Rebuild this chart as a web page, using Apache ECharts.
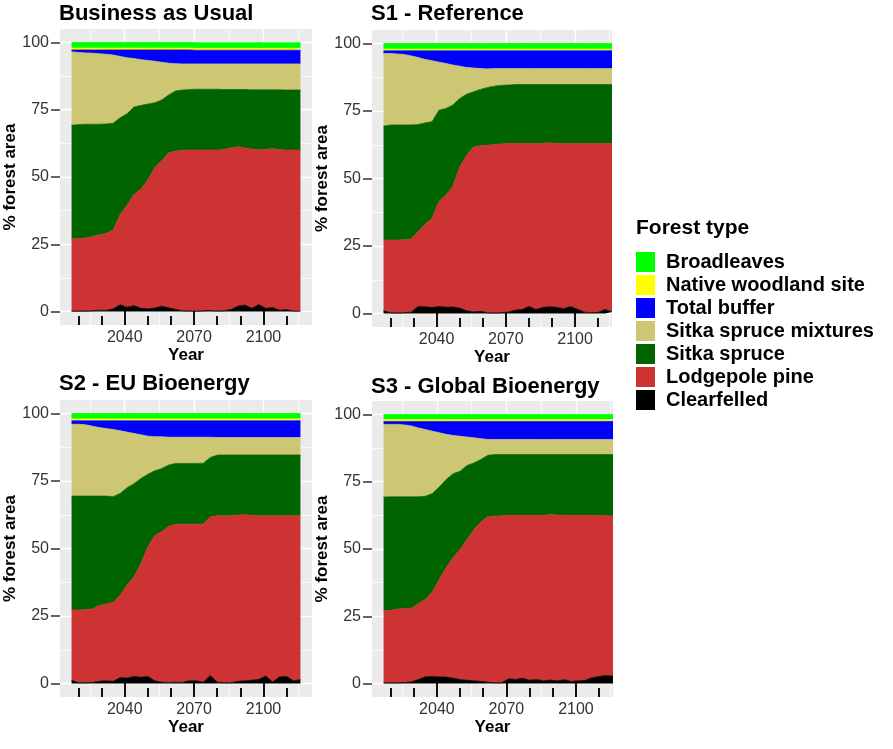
<!DOCTYPE html>
<html>
<head>
<meta charset="utf-8">
<script src="https://cdn.jsdelivr.net/npm/echarts@6/dist/echarts.min.js"></script>
<style>
  html, body { margin: 0; background: #fff; }
  #chart { width: 893px; height: 749px; }
</style>
</head>
<body>
<div id="chart"></div>
<script>
// sample years (read every 3 years off the picture)
const YEARS = [2017, 2020, 2023, 2026, 2029, 2032, 2035, 2038, 2041, 2044, 2047, 2050, 2053, 2056, 2059, 2062, 2065,
  2068, 2071, 2074, 2077, 2080, 2083, 2086, 2089, 2092, 2095, 2098, 2101, 2104, 2107, 2110, 2113, 2116];

const TYPES = ["Clearfelled", "Lodgepole pine", "Sitka spruce", "Sitka spruce mixtures", "Total buffer", "Native woodland site", "Broadleaves"];
const LEGEND_ORDER = ["Broadleaves", "Native woodland site", "Total buffer", "Sitka spruce mixtures", "Sitka spruce", "Lodgepole pine", "Clearfelled"];
const SCENARIOS = ["Business as Usual", "S1 - Reference", "S2 - EU Bioenergy", "S3 - Global Bioenergy"];
const Y_TICKS = [0, 25, 50, 75, 100];
const X_LABELS = [2040, 2070, 2100];
const X_MINOR = [2020, 2030, 2040, 2050, 2060, 2070, 2080, 2090, 2100, 2110];

// % forest area, Business as Usual
const BAU_CLEAR = [0.2, 0.1, 0.2, 0.3, 0.5, 0.4, 1.0, 2.5, 1.6, 2.2, 1.2, 1.0, 1.3, 2.0, 1.4, 0.8, 0.3, 0.2, 0.1, 0.3, 0.4, 0.2, 0.3, 0.8, 2.0, 2.4, 1.2, 2.6, 1.2, 1.5, 0.5, 0.7, 0.2, 0.1];
const BAU_LODGE = [26.8, 27.0, 27.1, 27.5, 28.0, 28.6, 29.3, 33.5, 37.9, 41.3, 44.3, 47.9, 52.2, 54.0, 57.6, 58.8, 59.6, 59.8, 59.9, 59.7, 59.6, 59.8, 59.9, 60.0, 59.2, 58.4, 59.1, 57.6, 59.0, 59.1, 59.6, 59.3, 59.8, 59.9];
const BAU_SITKA = [42.2, 42.4, 42.3, 41.8, 41.1, 40.7, 39.7, 36.0, 34.0, 32.5, 31.1, 28.2, 24.1, 22.6, 21.5, 22.4, 22.4, 22.5, 22.6, 22.6, 22.6, 22.6, 22.3, 21.7, 21.3, 21.7, 22.1, 22.2, 22.2, 21.8, 22.3, 22.3, 22.3, 22.3];
const BAU_MIX = [27.3, 26.8, 26.5, 26.4, 26.2, 25.9, 25.3, 22.8, 20.8, 18.0, 17.0, 16.2, 15.4, 14.0, 11.8, 10.1, 9.7, 9.5, 9.4, 9.4, 9.4, 9.4, 9.5, 9.5, 9.5, 9.5, 9.6, 9.6, 9.6, 9.6, 9.6, 9.7, 9.7, 9.7];
const BAU_BUF = [0.7, 0.9, 1.1, 1.2, 1.4, 1.6, 1.9, 2.4, 2.9, 3.2, 3.6, 3.9, 4.2, 4.6, 4.9, 5.1, 5.2, 5.2, 5.1, 5.1, 5.1, 5.1, 5.1, 5.1, 5.1, 5.1, 5.1, 5.1, 5.1, 5.1, 5.1, 5.1, 5.1, 5.1];
const BAU_NATIVE = [0.7, 0.7, 0.7, 0.7, 0.7, 0.7, 0.7, 0.7, 0.7, 0.7, 0.7, 0.7, 0.7, 0.7, 0.7, 0.7, 0.7, 0.7, 0.7, 0.7, 0.7, 0.7, 0.7, 0.7, 0.7, 0.7, 0.7, 0.7, 0.7, 0.7, 0.7, 0.7, 0.7, 0.7];
const BAU_BROAD = [2.1, 2.1, 2.1, 2.1, 2.1, 2.1, 2.1, 2.1, 2.1, 2.1, 2.1, 2.1, 2.1, 2.1, 2.1, 2.1, 2.1, 2.1, 2.1, 2.1, 2.1, 2.1, 2.1, 2.1, 2.1, 2.1, 2.1, 2.1, 2.1, 2.1, 2.1, 2.1, 2.1, 2.1];

// S1 - Reference
const S1_CLEAR = [1.0, 0.3, 0.2, 0.3, 0.5, 2.6, 2.5, 2.2, 2.6, 2.3, 2.4, 2.0, 1.0, 0.6, 0.8, 0.3, 0.2, 0.3, 0.5, 1.2, 1.5, 2.6, 1.5, 2.2, 2.5, 2.3, 1.8, 2.6, 1.6, 0.5, 0.3, 0.4, 1.5, 0.6];
const S1_LODGE = [26.2, 26.9, 27.0, 27.0, 27.1, 27.7, 30.6, 33.0, 38.9, 41.5, 44.6, 52.3, 57.6, 61.1, 61.3, 62.0, 62.4, 62.5, 62.5, 61.8, 61.5, 60.4, 61.5, 60.8, 60.7, 60.7, 61.2, 60.4, 61.4, 62.5, 62.7, 62.6, 61.5, 62.4];
const S1_SITKA = [42.2, 42.6, 42.6, 42.5, 42.2, 39.7, 37.5, 35.8, 33.8, 32.1, 30.2, 25.3, 22.6, 20.4, 20.9, 21.4, 21.6, 21.7, 21.6, 21.8, 21.8, 21.8, 21.8, 21.8, 21.6, 21.8, 21.8, 21.8, 21.8, 21.8, 21.8, 21.8, 21.8, 21.8];
const S1_MIX = [26.9, 26.5, 26.3, 26.1, 25.6, 24.8, 23.5, 22.6, 17.8, 16.7, 14.8, 12.0, 9.9, 8.8, 7.7, 6.9, 6.5, 6.2, 6.1, 5.9, 5.9, 5.9, 5.9, 5.9, 5.9, 5.9, 5.9, 5.9, 5.9, 5.9, 5.9, 5.9, 5.9, 5.9];
const S1_BUF = [1.0, 1.0, 1.2, 1.4, 1.9, 2.5, 3.2, 3.7, 4.2, 4.7, 5.3, 5.7, 6.2, 6.4, 6.6, 6.7, 6.6, 6.6, 6.6, 6.6, 6.6, 6.6, 6.6, 6.6, 6.6, 6.6, 6.6, 6.6, 6.6, 6.6, 6.6, 6.6, 6.6, 6.6];
const S1_NATIVE = [0.6, 0.6, 0.6, 0.6, 0.6, 0.6, 0.6, 0.6, 0.6, 0.6, 0.6, 0.6, 0.6, 0.6, 0.6, 0.6, 0.6, 0.6, 0.6, 0.6, 0.6, 0.6, 0.6, 0.6, 0.6, 0.6, 0.6, 0.6, 0.6, 0.6, 0.6, 0.6, 0.6, 0.6];
const S1_BROAD = [2.1, 2.1, 2.1, 2.1, 2.1, 2.1, 2.1, 2.1, 2.1, 2.1, 2.1, 2.1, 2.1, 2.1, 2.1, 2.1, 2.1, 2.1, 2.1, 2.1, 2.1, 2.1, 2.1, 2.1, 2.1, 2.1, 2.1, 2.1, 2.1, 2.1, 2.1, 2.1, 2.1, 2.1];

// S2 - EU Bioenergy
const S2_CLEAR = [1.2, 0.3, 0.3, 0.4, 0.8, 1.0, 0.8, 2.2, 2.0, 2.6, 2.3, 2.6, 1.0, 0.5, 0.4, 0.5, 0.4, 1.0, 1.0, 0.5, 3.0, 0.5, 0.3, 0.3, 0.8, 1.0, 1.2, 1.5, 2.8, 0.6, 2.5, 2.6, 1.0, 1.4];
const S2_LODGE = [26.0, 26.9, 27.0, 27.2, 28.1, 28.4, 29.2, 30.5, 34.5, 36.9, 42.1, 48.0, 53.8, 55.7, 57.8, 58.5, 58.6, 58.0, 58.0, 58.5, 58.7, 61.6, 61.8, 61.8, 61.6, 61.5, 61.1, 60.6, 59.3, 61.5, 59.6, 59.5, 61.1, 60.7];
const S2_SITKA = [42.2, 42.2, 42.1, 41.8, 40.5, 40.0, 39.2, 37.7, 36.0, 34.5, 31.5, 26.9, 24.0, 23.4, 22.7, 22.5, 22.5, 22.5, 22.5, 22.6, 22.0, 22.5, 22.5, 22.5, 22.2, 22.1, 22.3, 22.5, 22.5, 22.5, 22.5, 22.5, 22.5, 22.5];
const S2_MIX = [26.6, 26.6, 26.4, 25.9, 25.4, 25.0, 24.9, 23.2, 20.6, 18.6, 16.2, 14.1, 12.6, 11.8, 10.3, 9.7, 9.7, 9.7, 9.7, 9.6, 7.5, 6.5, 6.5, 6.5, 6.5, 6.5, 6.5, 6.5, 6.5, 6.5, 6.5, 6.5, 6.5, 6.5];
const S2_BUF = [1.3, 1.3, 1.5, 2.0, 2.5, 2.9, 3.2, 3.7, 4.2, 4.7, 5.2, 5.7, 5.9, 5.9, 6.1, 6.1, 6.1, 6.1, 6.1, 6.1, 6.1, 6.2, 6.2, 6.2, 6.2, 6.2, 6.2, 6.2, 6.2, 6.2, 6.2, 6.2, 6.2, 6.2];
const S2_NATIVE = [0.7, 0.7, 0.7, 0.7, 0.7, 0.7, 0.7, 0.7, 0.7, 0.7, 0.7, 0.7, 0.7, 0.7, 0.7, 0.7, 0.7, 0.7, 0.7, 0.7, 0.7, 0.7, 0.7, 0.7, 0.7, 0.7, 0.7, 0.7, 0.7, 0.7, 0.7, 0.7, 0.7, 0.7];
const S2_BROAD = [2.0, 2.0, 2.0, 2.0, 2.0, 2.0, 2.0, 2.0, 2.0, 2.0, 2.0, 2.0, 2.0, 2.0, 2.0, 2.0, 2.0, 2.0, 2.0, 2.0, 2.0, 2.0, 2.0, 2.0, 2.0, 2.0, 2.0, 2.0, 2.0, 2.0, 2.0, 2.0, 2.0, 2.0];

// S3 - Global Bioenergy
const S3_CLEAR = [0.3, 0.3, 0.3, 0.4, 0.6, 1.5, 2.5, 2.6, 2.5, 2.4, 2.0, 1.5, 1.2, 1.0, 0.8, 0.5, 0.3, 0.3, 1.8, 1.5, 2.0, 1.2, 1.5, 1.0, 1.3, 1.0, 1.4, 0.8, 1.0, 1.2, 2.2, 2.6, 3.0, 2.8];
const S3_LODGE = [26.8, 26.9, 27.4, 27.5, 27.4, 28.2, 28.7, 31.4, 36.1, 40.6, 44.8, 48.3, 52.3, 56.2, 59.2, 61.5, 61.9, 62.1, 60.7, 61.0, 60.5, 61.3, 61.0, 61.5, 61.5, 61.6, 61.1, 61.7, 61.5, 61.3, 60.3, 59.9, 59.4, 59.4];
const S3_SITKA = [42.2, 42.2, 41.7, 41.5, 41.4, 39.7, 38.4, 36.6, 34.4, 32.8, 31.2, 29.1, 27.5, 24.8, 23.3, 22.8, 22.9, 22.7, 22.6, 22.6, 22.6, 22.6, 22.6, 22.6, 22.3, 22.5, 22.6, 22.6, 22.6, 22.6, 22.6, 22.6, 22.7, 22.9];
const S3_MIX = [27.0, 26.9, 26.9, 26.7, 26.3, 25.6, 24.8, 23.2, 20.2, 16.8, 14.2, 13.0, 10.6, 9.3, 7.7, 5.9, 5.6, 5.6, 5.6, 5.6, 5.6, 5.6, 5.6, 5.6, 5.6, 5.6, 5.6, 5.6, 5.6, 5.6, 5.6, 5.6, 5.6, 5.6];
const S3_BUF = [1.1, 1.1, 1.1, 1.3, 1.7, 2.4, 3.0, 3.6, 4.2, 4.8, 5.2, 5.5, 5.8, 6.1, 6.4, 6.7, 6.7, 6.7, 6.7, 6.7, 6.7, 6.7, 6.7, 6.7, 6.7, 6.7, 6.7, 6.7, 6.7, 6.7, 6.7, 6.7, 6.7, 6.7];
const S3_NATIVE = [0.7, 0.7, 0.7, 0.7, 0.7, 0.7, 0.7, 0.7, 0.7, 0.7, 0.7, 0.7, 0.7, 0.7, 0.7, 0.7, 0.7, 0.7, 0.7, 0.7, 0.7, 0.7, 0.7, 0.7, 0.7, 0.7, 0.7, 0.7, 0.7, 0.7, 0.7, 0.7, 0.7, 0.7];
const S3_BROAD = [1.9, 1.9, 1.9, 1.9, 1.9, 1.9, 1.9, 1.9, 1.9, 1.9, 1.9, 1.9, 1.9, 1.9, 1.9, 1.9, 1.9, 1.9, 1.9, 1.9, 1.9, 1.9, 1.9, 1.9, 1.9, 1.9, 1.9, 1.9, 1.9, 1.9, 1.9, 1.9, 1.9, 1.9];

// stacked bottom → top, same order as TYPES
const VALUES = [
  [BAU_CLEAR, BAU_LODGE, BAU_SITKA, BAU_MIX, BAU_BUF, BAU_NATIVE, BAU_BROAD],
  [S1_CLEAR, S1_LODGE, S1_SITKA, S1_MIX, S1_BUF, S1_NATIVE, S1_BROAD],
  [S2_CLEAR, S2_LODGE, S2_SITKA, S2_MIX, S2_BUF, S2_NATIVE, S2_BROAD],
  [S3_CLEAR, S3_LODGE, S3_SITKA, S3_MIX, S3_BUF, S3_NATIVE, S3_BROAD],
];

const COLORS = {
  "Clearfelled": "#000000", "Lodgepole pine": "#CD3333", "Sitka spruce": "#006400",
  "Sitka spruce mixtures": "#CDC673", "Total buffer": "#0000FF", "Native woodland site": "#FFFF00", "Broadleaves": "#00FF00",
};

/* ---------------------------------------------------------- layout ----- */
const FONT = "'Liberation Sans', Arial, sans-serif";
const PANEL_BOX = [
  { left: 60, top: 29, width: 252, height: 296, xMax: 2121, titleTop: 3 },
  { left: 372, top: 30, width: 240, height: 297, xMax: 2116, titleTop: 3 },
  { left: 60, top: 400, width: 252, height: 297, xMax: 2121, titleTop: 373 },
  { left: 372, top: 401, width: 241, height: 296, xMax: 2116, titleTop: 376 },
];

const grid = [], xAxis = [], yAxis = [], series = [], title = [];

PANEL_BOX.forEach((p, k) => {
  grid.push({ left: p.left, top: p.top, width: p.width, height: p.height, show: true,
    backgroundColor: "#EBEBEB", borderWidth: 0, containLabel: false, outerBoundsMode: "none" });
  title.push({ text: SCENARIOS[k], left: p.left - 1, top: p.titleTop,
    textStyle: { fontFamily: FONT, fontSize: 22, fontWeight: "bold", color: "#000" }, padding: 0 });

  const xBase = { type: "value", gridIndex: k, min: 2012, max: p.xMax, position: "bottom",
    axisLine: { show: false, onZero: false } };
  // minor ticks + labels
  xAxis.push(Object.assign({}, xBase, {
    name: "Year", nameLocation: "middle", nameGap: 22,
    nameTextStyle: { fontFamily: FONT, fontSize: 17, fontWeight: "bold", color: "#000" },
    axisTick: { show: true, inside: true, length: 9, customValues: X_MINOR, lineStyle: { color: "#111", width: 2 } },
    axisLabel: { customValues: X_LABELS, formatter: (v) => String(v), fontFamily: FONT, fontSize: 16, color: "#333", margin: 5 },
    splitLine: { show: false },
  }));
  // major ticks + major grid lines
  xAxis.push(Object.assign({}, xBase, {
    axisTick: { show: true, inside: true, length: 15, customValues: X_LABELS, lineStyle: { color: "#111", width: 2 } },
    axisLabel: { show: false },
    splitLine: { show: true, lineStyle: { color: "#fff", width: 1.4 } },
  }));
  // minor grid lines
  xAxis.push(Object.assign({}, xBase, {
    axisTick: { show: false, customValues: [2025, 2055, 2085, 2115] },
    axisLabel: { show: false },
    splitLine: { show: true, lineStyle: { color: "#fff", width: 0.7 } },
  }));

  yAxis.push({ type: "value", gridIndex: k, min: -5, max: 105, position: "left",
    name: "% forest area", nameLocation: "middle", nameRotate: 90, nameGap: 38,
    nameTextStyle: { fontFamily: FONT, fontSize: 17, fontWeight: "bold", color: "#000" },
    axisLine: { show: false, onZero: false },
    axisTick: { show: true, length: 9, customValues: Y_TICKS, lineStyle: { color: "#333", width: 1.5 } },
    axisLabel: { customValues: Y_TICKS, fontFamily: FONT, fontSize: 16, color: "#333", margin: 11 },
    splitLine: { show: true, lineStyle: { color: "#fff", width: 1.4 } },
  });
  yAxis.push({ type: "value", gridIndex: k, min: -5, max: 105, position: "left",
    axisLine: { show: false, onZero: false }, axisLabel: { show: false },
    axisTick: { show: false, customValues: [12.5, 37.5, 62.5, 87.5] },
    splitLine: { show: true, lineStyle: { color: "#fff", width: 0.7 } },
  });

  TYPES.forEach((t, j) => {
    const vals = VALUES[k][j];
    series.push({
      name: t, type: "line", xAxisIndex: 3 * k, yAxisIndex: 2 * k, stack: "p" + k,
      // value first so that the stack runs on y, not on the year
      data: YEARS.map((y, i) => [vals[i], y]),
      encode: { x: 1, y: 0 },
      symbol: "none", showSymbol: false, silent: true,
      lineStyle: { width: 0.8, color: COLORS[t] },
      itemStyle: { color: COLORS[t] },
      areaStyle: { color: COLORS[t], opacity: 1 },
    });
  });
});

title.push({ text: "Forest type", left: 636, top: 218, padding: 0,
  textStyle: { fontFamily: FONT, fontSize: 21, fontWeight: "bold", color: "#000" } });

const chart = echarts.init(document.getElementById("chart"), null, { renderer: "canvas" });
chart.setOption({
  animation: false,
  backgroundColor: "#fff",
  tooltip: { show: false },
  title, grid, xAxis, yAxis, series,
  legend: {
    data: LEGEND_ORDER, orient: "vertical", left: 636, top: 252, padding: 0,
    icon: "rect", itemWidth: 19, itemHeight: 20, itemGap: 3, selectedMode: false,
    textStyle: { fontFamily: FONT, fontSize: 20, fontWeight: "bold", color: "#000", lineHeight: 20, padding: [0, 0, 0, 6] },
  },
});
</script>
</body>
</html>
